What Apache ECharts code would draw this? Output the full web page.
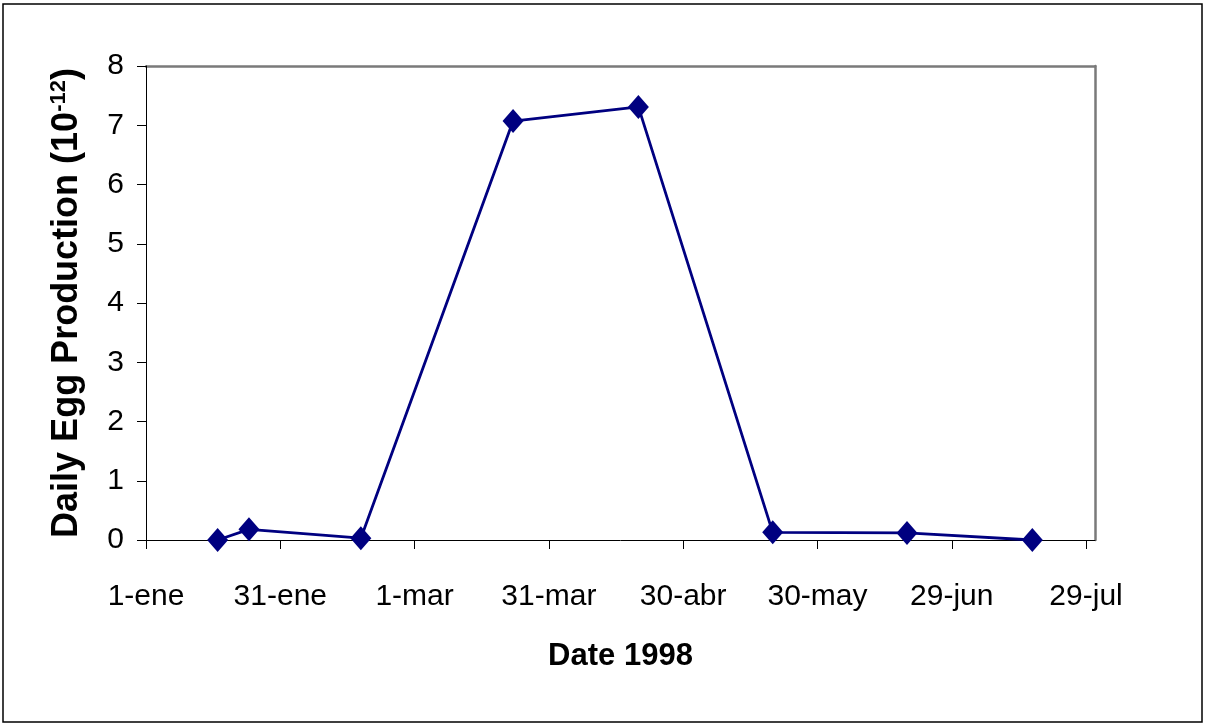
<!DOCTYPE html>
<html>
<head>
<meta charset="utf-8">
<script src="https://cdn.jsdelivr.net/npm/echarts@6/dist/echarts.min.js"></script>
<style>
html,body{margin:0;padding:0;background:#fff;}
#chart{width:1205px;height:724px;}
</style>
</head>
<body>
<div id="chart"></div>
<script>
// Days counted from 1-ene (day 0)
const sampleDays = [16, 23, 48, 82, 110, 140, 170, 198];
const eggProduction = [0, 0.18, 0.03, 7.07, 7.31, 0.13, 0.12, 0];
const xTickDays = [0, 30, 60, 90, 120, 150, 180, 210];
const xTickLabels = ['1-ene', '31-ene', '1-mar', '31-mar', '30-abr', '30-may', '29-jun', '29-jul'];
const yTicks = [0, 1, 2, 3, 4, 5, 6, 7, 8];

const FONT = '"Liberation Sans", Arial, sans-serif';
const chart = echarts.init(document.getElementById('chart'), null, {renderer: 'canvas'});

chart.setOption({
  animation: false,
  backgroundColor: '#ffffff',
  graphic: [{
    type: 'rect',
    shape: {x: 3, y: 4, width: 1199, height: 718},
    style: {fill: 'none', stroke: '#000', lineWidth: 1.5},
    silent: true
  }],
  grid: {left: 146, top: 66, right: 110, bottom: 184, containLabel: false},
  xAxis: [{
    type: 'value',
    min: 0,
    max: 212,
    interval: 30,
    position: 'bottom',
    name: 'Date 1998',
    nameLocation: 'middle',
    nameGap: 101,
    nameTextStyle: {fontFamily: FONT, fontSize: 31, fontWeight: 'bold', color: '#000'},
    axisLine: {show: true, onZero: false, lineStyle: {color: '#000', width: 1}},
    axisTick: {show: true, inside: false, length: 9, lineStyle: {color: '#000', width: 1},
               customValues: xTickDays},
    axisLabel: {show: true, margin: 42, fontFamily: FONT, fontSize: 30, color: '#000',
                customValues: xTickDays,
                formatter: function (v) { const i = xTickDays.indexOf(v); return i >= 0 ? xTickLabels[i] : ''; }},
    splitLine: {show: false},
    z: 3
  }, {
    type: 'value',
    min: 0,
    max: 212,
    position: 'top',
    axisLine: {show: true, onZero: false, lineStyle: {color: '#7a7a7a', width: 2.5}},
    axisTick: {show: false},
    axisLabel: {show: false},
    splitLine: {show: false}
  }],
  yAxis: [{
    type: 'value',
    min: 0,
    max: 8,
    interval: 1,
    position: 'left',
    name: 'Daily Egg Production (10{sup|-12})',
    nameLocation: 'middle',
    nameGap: 60,
    nameRotate: 90,
    nameTextStyle: {
      fontFamily: FONT, fontSize: 36, fontWeight: 'bold', color: '#000',
      rich: {
        sup: {fontFamily: FONT, fontSize: 22, fontWeight: 'bold', color: '#000', verticalAlign: 'top', padding: [0, 0, 16, 0]}
      }
    },
    axisLine: {show: true, onZero: false, lineStyle: {color: '#000', width: 1}},
    axisTick: {show: true, inside: false, length: 9, lineStyle: {color: '#000', width: 1}},
    axisLabel: {show: true, margin: 22, fontFamily: FONT, fontSize: 30, color: '#000',
                customValues: yTicks},
    splitLine: {show: false},
    z: 3
  }, {
    type: 'value',
    min: 0,
    max: 8,
    position: 'right',
    axisLine: {show: true, onZero: false, lineStyle: {color: '#7a7a7a', width: 2.5}},
    axisTick: {show: false},
    axisLabel: {show: false},
    splitLine: {show: false}
  }],
  series: [{
    type: 'line',
    xAxisIndex: 0,
    yAxisIndex: 0,
    data: sampleDays.map((d, i) => [d, eggProduction[i]]),
    lineStyle: {color: '#000080', width: 2.8},
    itemStyle: {color: '#000080'},
    symbol: 'diamond',
    symbolSize: [21, 24],
    showSymbol: true,
    z: 5
  }]
});
</script>
</body>
</html>
